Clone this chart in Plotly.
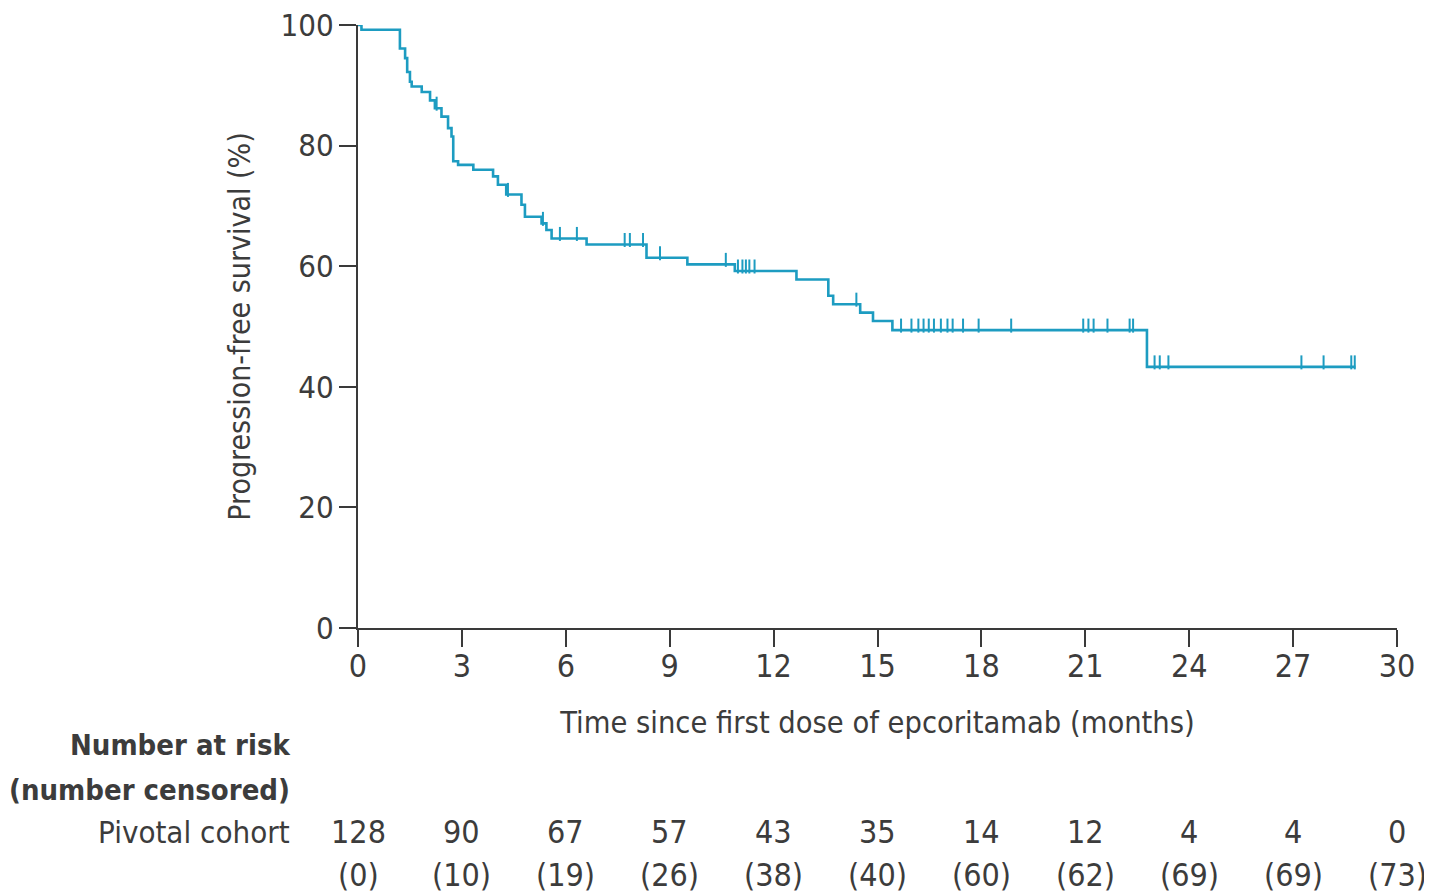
import plotly.graph_objects as go

# ---- Data ----
event_times = [0, 0.1, 1.21, 1.36, 1.42, 1.5, 1.55, 1.84, 2.08, 2.22, 2.41, 2.6, 2.7, 2.75, 2.89,
               3.33, 3.9, 4.04, 4.28, 4.72, 4.82, 5.3, 5.44, 5.59, 6.6, 8.33, 9.51, 10.88,
               12.66, 13.58, 13.72, 14.5, 14.87, 15.43, 22.78, 28.8]
survival = [100, 99.2, 96.1, 94.5, 92.2, 90.6, 89.8, 88.9, 87.5, 86.2, 84.8, 82.9, 81.5, 77.4, 76.8,
            76.0, 74.9, 73.5, 71.9, 70.2, 68.2, 67.1, 66.0, 64.6, 63.6, 61.4, 60.3, 59.2,
            57.8, 55.1, 53.7, 52.3, 50.9, 49.4, 43.3, 43.3]

censor_times = [2.27, 4.33, 5.34, 5.83, 6.32, 7.7, 7.85, 8.23, 8.72, 10.62,
                10.97, 11.1, 11.2, 11.3, 11.45, 14.39,
                15.68, 15.98, 16.18, 16.33, 16.48, 16.63, 16.83, 17.02, 17.17, 17.47, 17.92, 18.86,
                20.94, 21.09, 21.24, 21.64, 22.28, 22.38,
                23.0, 23.15, 23.4, 27.24, 27.88, 28.68, 28.78]

risk_times = [0, 3, 6, 9, 12, 15, 18, 21, 24, 27, 30]
at_risk = [128, 90, 67, 57, 43, 35, 14, 12, 4, 4, 0]
censored = [0, 10, 19, 26, 38, 40, 60, 62, 69, 69, 73]

x_ticks = [0, 3, 6, 9, 12, 15, 18, 21, 24, 27, 30]
y_ticks = [0, 20, 40, 60, 80, 100]

# ---- Style ----
LINE_COLOR = "#1d9cc1"
AXIS_COLOR = "#3a3a3a"
TEXT_COLOR = "#3c3c3c"
FONT = "DejaVu Sans Condensed, Liberation Sans Narrow, Lato, sans-serif"

# page geometry (browser body has an 8px margin)
BODY = 8
PLOT_L, PLOT_R, PLOT_T, PLOT_B = 358, 1397, 25, 628   # page pixels of the plot area
FIG_W, FIG_H = 1432 - BODY, 895 - BODY


def surv_at(t):
    s = survival[0]
    for et, sv in zip(event_times, survival):
        if et <= t:
            s = sv
        else:
            break
    return s


def py(p):  # page pixel y -> paper y
    return (PLOT_B - p) / (PLOT_B - PLOT_T)


def px(p):  # page pixel x -> paper x
    return (p - PLOT_L) / (PLOT_R - PLOT_L)


censor_y = [surv_at(t) + 0.75 for t in censor_times]

fig = go.Figure()
fig.add_trace(go.Scatter(
    x=event_times, y=survival, mode="lines", line=dict(color=LINE_COLOR, width=2.6, shape="hv"),
    cliponaxis=False, showlegend=False, hoverinfo="skip"))
fig.add_trace(go.Scatter(
    x=censor_times, y=censor_y, mode="markers",
    marker=dict(symbol="line-ns", size=10, line=dict(color=LINE_COLOR, width=2)),
    cliponaxis=False, showlegend=False, hoverinfo="skip"))

# Number-at-risk table
ann = []
ROW1 = py(832)
ROW2 = py(875)
for t, n, c in zip(risk_times, at_risk, censored):
    ann.append(dict(x=t, y=ROW1, xref="x", yref="paper", text=str(n), showarrow=False,
                    font=dict(size=32, color=TEXT_COLOR, family=FONT), xanchor="center", yanchor="middle"))
    ann.append(dict(x=t, y=ROW2, xref="x", yref="paper", text=f"({c})", showarrow=False,
                    font=dict(size=32, color=TEXT_COLOR, family=FONT), xanchor="center", yanchor="middle"))

ann.append(dict(x=px(292), y=py(745), xref="paper", yref="paper", text="<b>Number at risk</b>",
                showarrow=False, font=dict(size=29, color=TEXT_COLOR, family=FONT),
                xanchor="right", yanchor="middle"))
ann.append(dict(x=px(292), y=py(790), xref="paper", yref="paper", text="<b>(number censored)</b>",
                showarrow=False, font=dict(size=29, color=TEXT_COLOR, family=FONT),
                xanchor="right", yanchor="middle"))
ann.append(dict(x=px(292), y=ROW1, xref="paper", yref="paper", text="Pivotal cohort",
                showarrow=False, font=dict(size=31, color=TEXT_COLOR, family=FONT),
                xanchor="right", yanchor="middle"))

fig.update_layout(
    width=FIG_W, height=FIG_H,
    margin=dict(l=PLOT_L - BODY, r=FIG_W - (PLOT_R - BODY), t=PLOT_T - BODY, b=FIG_H - (PLOT_B - BODY),
                autoexpand=False),
    plot_bgcolor="white", paper_bgcolor="white",
    font=dict(family=FONT, color=TEXT_COLOR, size=32),
    annotations=ann,
    xaxis=dict(range=[0, 30], tickvals=x_ticks, ticks="outside", ticklen=17, tickwidth=2,
               tickcolor=AXIS_COLOR, showline=True, linecolor=AXIS_COLOR, linewidth=2,
               showgrid=False, zeroline=False, automargin=False, ticklabeloverflow="allow",
               tickfont=dict(size=32, family=FONT, color=TEXT_COLOR),
               ticklabelstandoff=-8,
               title=dict(text="Time since first dose of epcoritamab (months)",
                          font=dict(size=30.5, family=FONT, color=TEXT_COLOR), standoff=27)),
    yaxis=dict(range=[0, 100], tickvals=y_ticks, ticks="outside", ticklen=17, tickwidth=2,
               tickcolor=AXIS_COLOR, showline=True, linecolor=AXIS_COLOR, linewidth=2,
               showgrid=False, zeroline=False, automargin=False, ticklabeloverflow="allow",
               tickfont=dict(size=31, family=FONT, color=TEXT_COLOR),
               ticklabelstandoff=-1,
               title=dict(text="Progression-free survival (%)",
                          font=dict(size=30, family=FONT, color=TEXT_COLOR), standoff=21)),
)

fig.write_html("out.html")
